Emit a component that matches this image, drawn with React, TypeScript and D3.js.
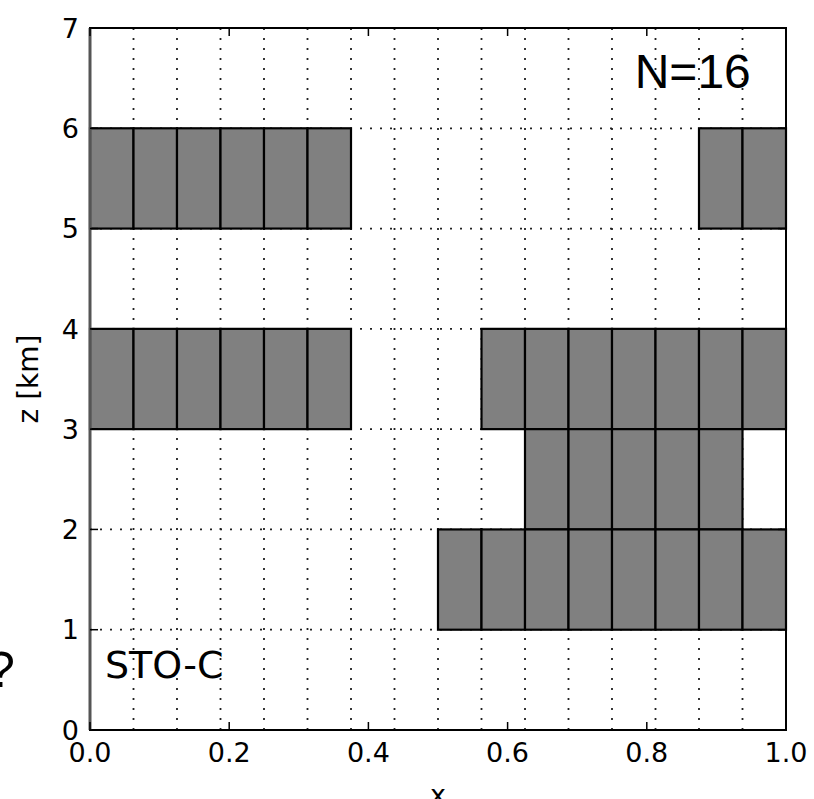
import React, { useEffect, useRef } from 'react';
import * as d3 from 'd3';

// grid resolution and tick values
const nCols = 16;
const xTicks = [0, 0.2, 0.4, 0.6, 0.8, 1.0];
const zTicks = [0, 1, 2, 3, 4, 5, 6, 7];

// filled spans: bottom of the 1 km layer, first column, end column (exclusive)
const spanZ = [5, 5, 3, 3, 2, 1];
const spanStart = [0, 14, 0, 9, 10, 8];
const spanEnd = [6, 16, 6, 16, 15, 16];

const App = () => {
  const svgRef = useRef<SVGSVGElement>(null);

  useEffect(() => {
    const margin = { top: 28, right: 28, bottom: 69, left: 90 };
    const W = 814;
    const H = 799;
    const width = W - margin.left - margin.right;
    const height = H - margin.top - margin.bottom;

    const root = d3.select(svgRef.current);
    root.selectAll('*').remove();
    root.attr('width', W).attr('height', H);

    const svg = root.append('g')
      .attr('transform', `translate(${margin.left},${margin.top})`);

    const x = d3.scaleLinear().domain([0, 1]).range([0, width]);
    const y = d3.scaleLinear().domain([0, 7]).range([height, 0]);

    // dotted grid
    const gridX = d3.range(1, nCols).map(i => i / nCols);
    svg.append('g')
      .selectAll('line')
      .data(gridX)
      .enter()
      .append('line')
      .attr('x1', d => x(d)).attr('x2', d => x(d))
      .attr('y1', 0).attr('y2', height)
      .attr('stroke', '#222')
      .attr('stroke-width', 1.8)
      .attr('stroke-dasharray', '2 8');

    svg.append('g')
      .selectAll('line')
      .data(zTicks.slice(1, -1))
      .enter()
      .append('line')
      .attr('x1', 0).attr('x2', width)
      .attr('y1', d => y(d)).attr('y2', d => y(d))
      .attr('stroke', '#222')
      .attr('stroke-width', 1.8)
      .attr('stroke-dasharray', '2 8');

    // cells
    const cells: { c: number; z: number }[] = [];
    spanZ.forEach((z, i) => {
      for (let c = spanStart[i]; c < spanEnd[i]; c++) cells.push({ c, z });
    });

    svg.append('g')
      .selectAll('rect')
      .data(cells)
      .enter()
      .append('rect')
      .attr('x', d => x(d.c / nCols))
      .attr('y', d => y(d.z + 1))
      .attr('width', x(1 / nCols) - x(0))
      .attr('height', y(0) - y(1))
      .attr('fill', '#808080')
      .attr('stroke', '#000')
      .attr('stroke-width', 2.2);

    // frame
    svg.append('rect')
      .attr('width', width).attr('height', height)
      .attr('fill', 'none')
      .attr('stroke', '#000')
      .attr('stroke-width', 2);
    svg.append('line')
      .attr('x1', 0).attr('x2', 0).attr('y1', 0).attr('y2', height)
      .attr('stroke', '#555').attr('stroke-width', 3);

    // inward ticks on all four sides
    const tickLen = 8;
    const tk = svg.append('g').attr('stroke', '#000').attr('stroke-width', 1.5);
    xTicks.forEach(t => {
      tk.append('line').attr('x1', x(t)).attr('x2', x(t)).attr('y1', height).attr('y2', height - tickLen);
      tk.append('line').attr('x1', x(t)).attr('x2', x(t)).attr('y1', 0).attr('y2', tickLen);
    });
    zTicks.forEach(t => {
      tk.append('line').attr('x1', 0).attr('x2', tickLen).attr('y1', y(t)).attr('y2', y(t));
      tk.append('line').attr('x1', width).attr('x2', width - tickLen).attr('y1', y(t)).attr('y2', y(t));
    });

    const font = 'DejaVu Sans, sans-serif';

    svg.append('g')
      .selectAll('text')
      .data(xTicks)
      .enter()
      .append('text')
      .attr('x', d => x(d))
      .attr('y', height + 32)
      .attr('text-anchor', 'middle')
      .attr('font-family', font)
      .attr('font-size', 27)
      .text(d => d.toFixed(1));

    svg.append('g')
      .selectAll('text')
      .data(zTicks)
      .enter()
      .append('text')
      .attr('x', -11)
      .attr('y', d => y(d))
      .attr('dy', '0.36em')
      .attr('text-anchor', 'end')
      .attr('font-family', font)
      .attr('font-size', 27)
      .text(d => d);

    // axis labels
    svg.append('text')
      .attr('x', width / 2)
      .attr('y', height + 74)
      .attr('text-anchor', 'middle')
      .attr('font-family', font)
      .attr('font-size', 27)
      .text('x');

    svg.append('text')
      .attr('transform', `translate(-52,${height / 2}) rotate(-90)`)
      .attr('text-anchor', 'middle')
      .attr('font-family', font)
      .attr('font-size', 28)
      .text('z [km]');

    // annotations
    svg.append('text')
      .attr('x', x(0.866))
      .attr('y', 60)
      .attr('text-anchor', 'middle')
      .attr('font-family', 'Liberation Sans, Arial, sans-serif')
      .attr('font-size', 48)
      .text('N=16');

    svg.append('text')
      .attr('x', 15)
      .attr('y', y(0) - 52)
      .attr('font-family', font)
      .attr('font-size', 38)
      .text('STO-C');

    root.append('text')
      .attr('x', -13)
      .attr('y', 687)
      .attr('font-family', 'Liberation Sans, Arial, sans-serif')
      .attr('font-size', 50)
      .text('?');
  }, []);

  return (
    <div style={{ position: 'absolute', left: 0, top: 0 }}>
      <svg ref={svgRef} style={{ display: 'block', background: '#fff' }}></svg>
    </div>
  );
};

export default App;
